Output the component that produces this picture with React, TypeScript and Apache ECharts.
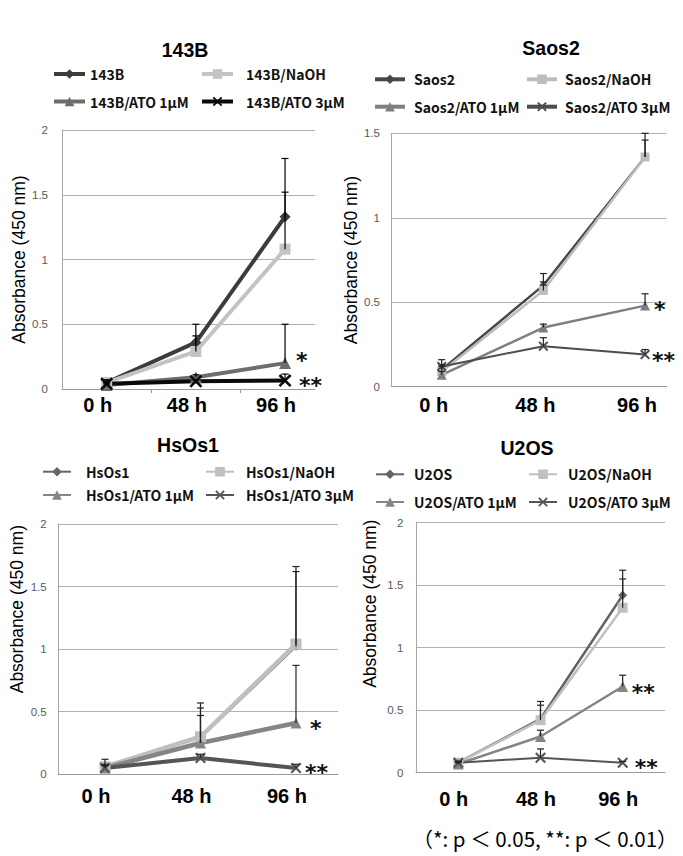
import React, { useEffect, useRef } from "react";
import * as echarts from "echarts";

// ---------- DATA ----------
const timeLabels = ["0 h", "48 h", "96 h"];

// 143B
const names143B = ["143B", "143B/NaOH", "143B/ATO 1μM", "143B/ATO 3μM"];
const v143B = [0.05, 0.36, 1.33];
const v143BNaOH = [0.05, 0.29, 1.08];
const v143BAto1 = [0.03, 0.09, 0.2];
const v143BAto3 = [0.04, 0.06, 0.065];
const e143B = [0.02, 0.14, 0.45];
const e143BNaOH = [0.02, 0.12, 0.44];
const e143BAto1 = [0.01, 0.02, 0.3];
const e143BAto3 = [0.01, 0.01, 0.05];
const sig143B = ["", "", "*", "**"];

// Saos2
const namesSaos2 = ["Saos2", "Saos2/NaOH", "Saos2/ATO 1μM", "Saos2/ATO 3μM"];
const vSaos2 = [0.1, 0.6, 1.36];
const vSaos2NaOH = [0.09, 0.57, 1.36];
const vSaos2Ato1 = [0.07, 0.35, 0.48];
const vSaos2Ato3 = [0.12, 0.24, 0.19];
const eSaos2 = [0.03, 0.07, 0.14];
const eSaos2NaOH = [0.03, 0.05, 0.1];
const eSaos2Ato1 = [0.02, 0.02, 0.07];
const eSaos2Ato3 = [0.04, 0.05, 0.03];
const sigSaos2 = ["", "", "*", "**"];

// HsOs1
const namesHsOs1 = ["HsOs1", "HsOs1/NaOH", "HsOs1/ATO 1μM", "HsOs1/ATO 3μM"];
const vHsOs1 = [0.07, 0.29, 1.02];
const vHsOs1NaOH = [0.06, 0.3, 1.04];
const vHsOs1Ato1 = [0.05, 0.25, 0.41];
const vHsOs1Ato3 = [0.05, 0.13, 0.05];
const eHsOs1 = [0.05, 0.28, 0.6];
const eHsOs1NaOH = [0.02, 0.23, 0.62];
const eHsOs1Ato1 = [0.02, 0.22, 0.46];
const eHsOs1Ato3 = [0.02, 0.03, 0.03];
const sigHsOs1 = ["", "", "*", "**"];

// U2OS
const namesU2OS = ["U2OS", "U2OS/NaOH", "U2OS/ATO 1μM", "U2OS/ATO 3μM"];
const vU2OS = [0.08, 0.43, 1.42];
const vU2OSNaOH = [0.08, 0.42, 1.32];
const vU2OSAto1 = [0.07, 0.29, 0.69];
const vU2OSAto3 = [0.08, 0.12, 0.08];
const eU2OS = [0.01, 0.14, 0.2];
const eU2OSNaOH = [0.01, 0.12, 0.23];
const eU2OSAto1 = [0.01, 0.05, 0.09];
const eU2OSAto3 = [0.01, 0.07, 0.01];
const sigU2OS = ["", "", "**", "**"];

const yMaxes = [2, 1.5, 2, 2];
const yAxisName = "Absorbance (450 nm)";
const footnote = "（*: p ＜ 0.05, **: p ＜ 0.01）";

const panels = [
  { title: "143B", names: names143B, values: [v143B, v143BNaOH, v143BAto1, v143BAto3], errors: [e143B, e143BNaOH, e143BAto1, e143BAto3], sig: sig143B },
  { title: "Saos2", names: namesSaos2, values: [vSaos2, vSaos2NaOH, vSaos2Ato1, vSaos2Ato3], errors: [eSaos2, eSaos2NaOH, eSaos2Ato1, eSaos2Ato3], sig: sigSaos2 },
  { title: "HsOs1", names: namesHsOs1, values: [vHsOs1, vHsOs1NaOH, vHsOs1Ato1, vHsOs1Ato3], errors: [eHsOs1, eHsOs1NaOH, eHsOs1Ato1, eHsOs1Ato3], sig: sigHsOs1 },
  { title: "U2OS", names: namesU2OS, values: [vU2OS, vU2OSNaOH, vU2OSAto1, vU2OSAto3], errors: [eU2OS, eU2OSNaOH, eU2OSAto1, eU2OSAto3], sig: sigU2OS },
];

// ---------- STYLE / LAYOUT ----------
const X_PATH =
  "path://M0,1.4L1.4,0L5,3.6L8.6,0L10,1.4L6.4,5L10,8.6L8.6,10L5,6.4L1.4,10L0,8.6L3.6,5Z";
const symbols = ["diamond", "rect", "triangle", X_PATH];

const layouts = [
  {
    left: 62, top: 130, width: 253, height: 259, xMin: -0.501, xMax: 2.336,
    nameGap: 33, namePad: 0, yLabelMargin: 14, xLabelMargin: 6, xLabelShift: 9, ticks: true,
    titleX: 185, titleY: 50, legendRows: [74, 101.5], legendCols: [52, 200], textPads: [0, 8], itemWidth: 31, legendLine: 4,
    colors: ["#3c3c3c", "#c3c3c3", "#6d6d6d", "#0a0a0a"], lineWidths: [4, 4, 4, 4], symbolSizes: [11, 11, 12, 13],
    errColor: "#000", sigOffsets: [[0, 0], [0, 0], [3, -3], [6, 5]],
  },
  {
    left: 391.7, top: 133.3, width: 275, height: 253.4, xMin: -0.492, xMax: 2.213,
    nameGap: 28, namePad: 0, yLabelMargin: 11.7, xLabelMargin: 8, xLabelShift: 8, ticks: false,
    titleX: 551, titleY: 48, legendRows: [79.3, 106.7], legendCols: [373, 525], textPads: [4, 3], itemWidth: 30, legendLine: 4,
    colors: ["#474747", "#bdbdbd", "#7f7f7f", "#4d4d4d"], lineWidths: [2.5, 2.5, 2.5, 2], symbolSizes: [8, 9, 10, 10],
    errColor: "#222", sigOffsets: [[0, 0], [0, 0], [1, 4], [-1, 6]],
  },
  {
    left: 58.3, top: 524, width: 279.7, height: 250.3, xMin: -0.489, xMax: 2.44,
    nameGap: 29, namePad: 80, yLabelMargin: 11.6, xLabelMargin: 12, xLabelShift: 9, ticks: false,
    titleX: 188, titleY: 445, legendRows: [471.7, 495], legendCols: [42, 205], textPads: [10, 7], itemWidth: 28, legendLine: 2,
    colors: ["#666666", "#bfbfbf", "#858585", "#555555"], lineWidths: [2, 4.5, 4.5, 4], symbolSizes: [8, 11, 11, 11],
    errColor: "#222", sigOffsets: [[0, 0], [0, 0], [6, 6], [1, 4]],
  },
  {
    left: 416, top: 522.7, width: 249, height: 250, xMin: -0.515, xMax: 2.515,
    nameGap: 37, namePad: 88, yLabelMargin: 12.7, xLabelMargin: 16, xLabelShift: 4.5, ticks: false,
    titleX: 527, titleY: 448, legendRows: [474.3, 502], legendCols: [375, 528], textPads: [5, 6], itemWidth: 28, legendLine: 2,
    colors: ["#636363", "#c0c0c0", "#858585", "#555555"], lineWidths: [2.5, 2.5, 2.5, 2], symbolSizes: [9, 10, 11, 11],
    errColor: "#222", sigOffsets: [[0, 0], [0, 0], [1, 6], [4, 5]],
  },
];

function makeErrorRenderer(color: string) {
  return (params: any, api: any) => {
    const x = api.value(0);
    const y = api.value(1);
    const e = api.value(2);
    const base = api.coord([x, y]);
    const top = api.coord([x, y + e]);
    return {
      type: "group",
      children: [
        { type: "line", shape: { x1: base[0], y1: base[1], x2: top[0], y2: top[1] }, style: { stroke: color, lineWidth: 1.2 } },
        { type: "line", shape: { x1: top[0] - 3.5, y1: top[1], x2: top[0] + 3.5, y2: top[1] }, style: { stroke: color, lineWidth: 1.2 } },
      ],
    };
  };
}

function buildOption() {
  const grid: any[] = [];
  const xAxis: any[] = [];
  const yAxis: any[] = [];
  const series: any[] = [];
  const legend: any[] = [];
  const graphic: any[] = [];

  panels.forEach((p, i) => {
    const L = layouts[i];
    grid.push({ left: L.left, top: L.top, width: L.width, height: L.height });
    xAxis.push({
      type: "value",
      gridIndex: i,
      min: L.xMin,
      max: L.xMax,
      splitLine: { show: false },
      axisLine: { show: true, onZero: false, lineStyle: { color: "#999999", width: 1 } },
      axisTick: { show: L.ticks, customValues: [0.5, 1.5], length: 4, lineStyle: { color: "#999999" } },
      axisLabel: {
        customValues: [0, 1, 2],
        formatter: (v: number) => timeLabels[Math.round(v)] ?? "",
        fontSize: 20,
        fontWeight: "bold",
        fontFamily: "Liberation Sans",
        color: "#000",
        margin: L.xLabelMargin,
        padding: [0, L.xLabelShift * 2, 0, 0],
      },
    });
    yAxis.push({
      type: "value",
      gridIndex: i,
      min: 0,
      max: yMaxes[i],
      interval: 0.5,
      axisLine: { show: true, onZero: false, lineStyle: { color: "#a6a6a6" } },
      axisTick: { show: false },
      splitLine: { lineStyle: { color: "#b0b0b0", width: 1 } },
      axisLabel: { color: "#595959", fontSize: 11.5, fontFamily: "Liberation Sans", margin: L.yLabelMargin },
      name: yAxisName,
      nameLocation: "middle",
      nameGap: L.nameGap,
      nameRotate: 90,
      nameTextStyle: {
        fontSize: 17.5,
        fontFamily: "Liberation Sans",
        color: "#000",
        lineHeight: 19,
        padding: [0, 0, 0, L.namePad],
      },
    });

    p.values.forEach((vals, k) => {
      const sig = p.sig[k];
      series.push({
        type: "line",
        name: p.names[k],
        xAxisIndex: i,
        yAxisIndex: i,
        data: vals.map((v, j) => [j, v]),
        symbol: symbols[k],
        symbolSize: L.symbolSizes[k],
        lineStyle: { color: L.colors[k], width: L.lineWidths[k] },
        itemStyle: { color: L.colors[k] },
        z: 2,
        endLabel: {
          show: sig !== "",
          formatter: () => sig,
          fontSize: 22,
          fontWeight: "bold",
          fontFamily: "DejaVu Sans",
          color: "#111",
          lineHeight: 14,
          offset: L.sigOffsets[k],
        },
      });
      series.push({
        type: "custom",
        name: p.names[k] + " SD",
        xAxisIndex: i,
        yAxisIndex: i,
        data: vals.map((v, j) => [j, v, p.errors[k][j]]),
        encode: { x: 0, y: 1 },
        renderItem: makeErrorRenderer(L.errColor),
        silent: true,
        z: 4,
      });

      const row = Math.floor(k / 2);
      const col = k % 2;
      legend.push({
        data: [p.names[k]],
        left: L.legendCols[col],
        top: L.legendRows[row] - 8,
        padding: 0,
        itemWidth: L.itemWidth,
        itemHeight: 12,
        selectedMode: false,
        lineStyle: { width: L.legendLine },
        textStyle: {
          fontFamily: "Noto Sans CJK JP",
          fontSize: 14,
          fontWeight: "bold",
          color: "#111",
          lineHeight: 16,
          padding: [0, 0, 0, L.textPads[col]],
        },
      });
    });

    graphic.push({
      type: "text",
      x: L.titleX,
      y: L.titleY,
      style: {
        text: p.title,
        fontSize: 19.5,
        fontWeight: "bold",
        fontFamily: "Liberation Sans",
        fill: "#000",
        align: "center",
        verticalAlign: "middle",
      },
    });
  });

  graphic.push({
    type: "text",
    x: 545,
    y: 838,
    style: {
      text: footnote,
      fontSize: 20.5,
      fontFamily: "Noto Sans CJK JP",
      fill: "#000",
      align: "center",
      verticalAlign: "middle",
    },
  });

  return {
    animation: false,
    backgroundColor: "#ffffff",
    grid,
    xAxis,
    yAxis,
    legend,
    series,
    graphic,
  };
}

export default function App() {
  const ref = useRef<HTMLDivElement>(null);
  useEffect(() => {
    document.body.style.margin = "0";
    const chart = echarts.init(ref.current as HTMLDivElement, null, { renderer: "svg" });
    chart.setOption(buildOption() as any);
    return () => chart.dispose();
  }, []);
  return <div ref={ref} style={{ width: 683, height: 856 }} />;
}
